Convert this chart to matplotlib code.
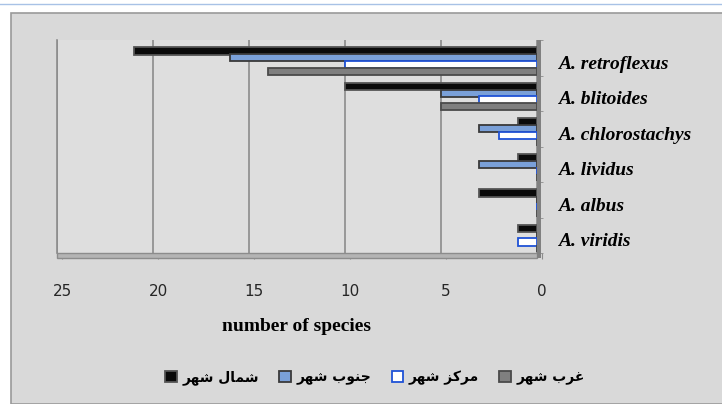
import numpy as np
import matplotlib.pyplot as plt
from matplotlib.patches import Rectangle
from matplotlib.lines import Line2D
from matplotlib.transforms import ScaledTranslation


species = ['A. retroflexus', 'A. blitoides', 'A. chlorostachys',
           'A. lividus', 'A. albus', 'A. viridis']
series_names = ['شمال شهر', 'جنوب شهر', 'مرکز شهر', 'غرب شهر']
north = [21, 10, 1, 1, 3, 1]
south = [16, 5, 3, 3, 0, 0]
center = [10, 3, 2, 0, 0, 1]
west = [14, 5, 0, 0, 0, 0]
x_ticks = [25, 20, 15, 10, 5, 0]


# Простая замена на формы представления, т.к. matplotlib не соединяет арабские буквы.
FORMS = {
    'ا': ('\ufe8d', '\ufe8e', None, None),
    'ب': ('\ufe8f', '\ufe90', '\ufe91', '\ufe92'),
    'ج': ('\ufe9d', '\ufe9e', '\ufe9f', '\ufea0'),
    'ر': ('\ufead', '\ufeae', None, None),
    'ز': ('\ufeaf', '\ufeb0', None, None),
    'ش': ('\ufeb5', '\ufeb6', '\ufeb7', '\ufeb8'),
    'غ': ('\ufecd', '\ufece', '\ufecf', '\ufed0'),
    'ل': ('\ufedd', '\ufede', '\ufedf', '\ufee0'),
    'م': ('\ufee1', '\ufee2', '\ufee3', '\ufee4'),
    'ن': ('\ufee5', '\ufee6', '\ufee7', '\ufee8'),
    'ه': ('\ufee9', '\ufeea', '\ufeeb', '\ufeec'),
    'و': ('\ufeed', '\ufeee', None, None),
    'ک': ('\ufb8e', '\ufb8f', '\ufb90', '\ufb91'),
}


def shape(text):
    out = []
    for i, ch in enumerate(text):
        if ch not in FORMS:
            out.append(ch)
            continue
        prev = text[i - 1] if i > 0 else ''
        nxt = text[i + 1] if i + 1 < len(text) else ''
        join_prev = prev in FORMS and FORMS[prev][2] is not None
        join_next = nxt in FORMS and FORMS[ch][2] is not None
        iso, fin, ini, med = FORMS[ch]
        if join_prev and join_next:
            out.append(med)
        elif join_prev:
            out.append(fin)
        elif join_next:
            out.append(ini)
        else:
            out.append(iso)
    return ''.join(out)[::-1]


fig = plt.figure(figsize=(7.22, 4.04), dpi=100)
fig.patch.set_facecolor('white')
fig.patches.append(Rectangle((11 / 722, 0), 1, (404 - 13) / 404, transform=fig.transFigure,
                             facecolor='#d9d9d9', edgecolor='#9a9a9a', lw=1.2, zorder=-10))
fig.lines.append(Line2D([0, 1], [1 - 4 / 404] * 2, transform=fig.transFigure,
                        color='#a8c2e6', lw=1))

ax = fig.add_axes([57 / 722, 151 / 404, 480 / 722, 213 / 404])
ax.set_facecolor('#dedede')

y = np.arange(len(species))
h = 0.2
styles = [
    dict(color='#0a0a0a', edgecolor='#555555'),
    dict(color='#7aa0d8', edgecolor='#3a3a3a'),
    dict(color='white', edgecolor='#1f52d6'),
    dict(color='#7f7f7f', edgecolor='#4a4a4a'),
]
offsets = [-0.19, 0.0, 0.19, 0.38]
for vals, name, st, off in zip([north, south, center, west], series_names, styles, offsets):
    ax.barh(y + off, vals, height=h, lw=1.3, label=shape(name), zorder=3, **st)

ax.set_xlim(25, 0)
ax.set_ylim(len(species) - 0.5, -0.5)

ax.set_xticks(x_ticks)
ax.set_xticklabels([str(t) for t in x_ticks], fontsize=11, color='#262626')
ax.tick_params(axis='x', length=4, pad=18, color='#8c8c8c')
ax.grid(axis='x', color='#8c8c8c', lw=1.2, zorder=1)
# подписи и засечки оси X сдвинуты вправо (передний край "3D" пола)
shift = ScaledTranslation(5 / 100, 0, fig.dpi_scale_trans)
for lab in ax.get_xticklabels():
    lab.set_transform(lab.get_transform() + shift)
for tl in ax.xaxis.get_ticklines():
    tl.set_transform(tl.get_transform() + shift)

ax.yaxis.tick_right()
ax.set_yticks(y + 0.12)
ax.set_yticklabels(species, fontsize=14, fontweight='bold', fontstyle='italic',
                   family='Liberation Serif')
ax.tick_params(axis='y', length=0, pad=15)
ax.set_yticks(np.arange(len(species) + 1) - 0.5, minor=True)
ax.tick_params(axis='y', which='minor', length=4, color='#8c8c8c', right=True, left=False)

for s in ['top', 'bottom', 'right']:
    ax.spines[s].set_visible(False)
ax.spines['left'].set_color('#8c8c8c')
ax.spines['left'].set_linewidth(1.2)

# "3D" пол и боковая стенка
ax.add_patch(Rectangle((0, -0.025), 1, 0.025, transform=ax.transAxes, clip_on=False,
                       facecolor='#b4b4b4', edgecolor='#8c8c8c', lw=1, zorder=2))
ax.add_patch(Rectangle((1, -0.025), 0.008, 1.025, transform=ax.transAxes, clip_on=False,
                       facecolor='#808080', edgecolor='none', zorder=4))

ax.set_xlabel('number of species', fontsize=14, fontweight='bold',
              family='Liberation Serif', labelpad=14)

handles, labels = ax.get_legend_handles_labels()
fig.legend(handles, labels, loc='center', bbox_to_anchor=(375 / 722, 1 - 378 / 404), ncol=4,
           frameon=False, handlelength=0.8, handleheight=0.8, handletextpad=0.4,
           columnspacing=1.5, prop=dict(family='DejaVu Sans', weight='bold', size=10))

fig.savefig('out.png', dpi=100, facecolor=fig.get_facecolor())
